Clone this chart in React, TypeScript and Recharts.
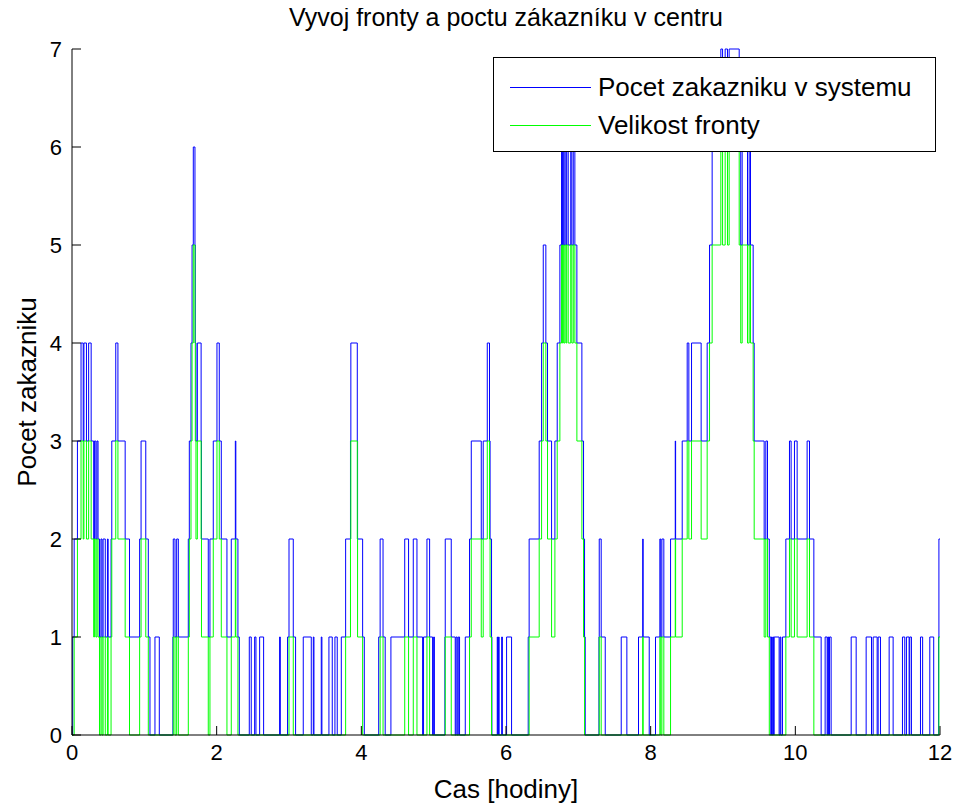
import React from "react";
import { LineChart, Line, XAxis, YAxis, Legend } from "recharts";

// time of each change (hours) and the values right after it
const eventTimes = [
  0, 0.01, 0.03, 0.075, 0.125, 0.155, 0.165, 0.2, 0.23, 0.265,
  0.3, 0.31, 0.33, 0.345, 0.36, 0.38, 0.4, 0.415, 0.43, 0.46,
  0.49, 0.5, 0.54, 0.55, 0.605, 0.635, 0.735, 0.795, 0.935, 0.955,
  1.02, 1.055, 1.078, 1.147, 1.207, 1.395, 1.4, 1.424, 1.447, 1.47,
  1.608, 1.622, 1.645, 1.66, 1.677, 1.7, 1.705, 1.714, 1.733, 1.785,
  1.79, 1.884, 1.907, 1.953,
  2.004, 2.036, 2.064, 2.142, 2.202, 2.258, 2.265, 2.294, 2.313, 2.451,
  2.478, 2.525, 2.543, 2.594, 2.649, 2.87, 2.88, 2.98,
  3.0, 3.059, 3.091, 3.197, 3.308, 3.336, 3.345, 3.446, 3.455, 3.552,
  3.598, 3.635, 3.667, 3.723, 3.783, 3.85, 3.855, 3.944, 3.948,
  4.018, 4.041, 4.24, 4.26, 4.3, 4.33, 4.409, 4.6, 4.653, 4.718,
  4.769, 4.847, 4.86, 4.907, 4.944, 4.985,
  5.0, 5.01, 5.155, 5.16, 5.243, 5.298, 5.31, 5.326, 5.34, 5.358,
  5.437, 5.496, 5.52, 5.658, 5.685, 5.741, 5.772, 5.78, 5.8, 5.805,
  5.879, 5.885, 5.897, 5.905, 5.94, 5.95,
  6.008, 6.077, 6.307, 6.32, 6.459, 6.492, 6.515, 6.551, 6.574, 6.63,
  6.676, 6.708, 6.745, 6.768, 6.78, 6.79, 6.8, 6.815, 6.83, 6.84,
  6.86, 6.895, 6.91, 6.93, 6.952, 6.98,
  7.049, 7.072, 7.086, 7.095, 7.285, 7.289, 7.316, 7.372, 7.593, 7.671,
  7.832, 7.89, 7.896, 7.98,
  8.067, 8.127, 8.14, 8.155, 8.182, 8.275, 8.34, 8.345, 8.436, 8.505,
  8.528, 8.565, 8.698, 8.781, 8.814, 8.85, 8.97, 8.994,
  9.03, 9.062, 9.085, 9.224, 9.245, 9.265, 9.339, 9.362, 9.38, 9.417,
  9.431, 9.569, 9.592, 9.615, 9.64, 9.661, 9.67, 9.68, 9.69, 9.7,
  9.707, 9.776, 9.79, 9.8, 9.822, 9.869, 9.919, 9.942, 9.988,
  10.025, 10.163, 10.196, 10.256, 10.357, 10.412, 10.44, 10.449, 10.46, 10.472,
  10.495, 10.772, 10.841, 10.979,
  11.053, 11.076, 11.131, 11.145, 11.177, 11.297, 11.352, 11.481, 11.513, 11.536,
  11.573, 11.582, 11.605, 11.73, 11.76, 11.859, 11.913, 11.98, 11.985, 12,
];

const systemCounts = [
  0, 1, 2, 3, 4, 3, 4, 3, 4, 3,
  2, 3, 2, 3, 2, 1, 2, 1, 2, 1,
  2, 1, 2, 3, 4, 3, 2, 1, 2, 3,
  2, 1, 0, 1, 0, 1, 2, 1, 2, 1,
  2, 3, 4, 5, 6, 5, 4, 3, 4, 3,
  2, 1, 2, 3,
  4, 3, 2, 1, 2, 3, 2, 1, 0, 1,
  0, 1, 0, 1, 0, 1, 0, 1,
  2, 1, 0, 1, 0, 1, 0, 1, 0, 1,
  0, 1, 0, 1, 2, 3, 4, 3, 2,
  1, 0, 1, 2, 1, 0, 1, 2, 1, 2,
  1, 0, 1, 2, 1, 0,
  1, 0, 1, 2, 1, 0, 1, 0, 1, 0,
  1, 2, 3, 2, 3, 4, 3, 2, 1, 0,
  1, 0, 1, 0, 1, 0,
  1, 0, 1, 2, 3, 4, 5, 4, 3, 2,
  3, 4, 5, 6, 5, 6, 5, 6, 5, 6,
  5, 6, 5, 6, 5, 4,
  3, 2, 1, 0, 1, 2, 1, 0, 1, 0,
  1, 2, 1, 0,
  1, 2, 1, 2, 1, 2, 3, 2, 3, 4,
  3, 4, 3, 4, 5, 6, 7, 6,
  7, 6, 7, 6, 5, 6, 5, 6, 5, 4,
  3, 2, 3, 2, 1, 0, 1, 0, 1, 0,
  1, 0, 1, 0, 1, 2, 3, 2, 3,
  2, 3, 2, 1, 0, 1, 0, 1, 0, 1,
  0, 1, 0, 1,
  0, 1, 0, 1, 0, 1, 0, 1, 0, 1,
  0, 1, 0, 1, 0, 1, 0, 1, 2, 2,
];

const queueSizes = [
  0, 0, 1, 2, 3, 2, 3, 2, 3, 2,
  1, 2, 1, 2, 1, 0, 1, 0, 1, 0,
  1, 0, 1, 2, 3, 2, 1, 0, 1, 2,
  1, 0, 0, 0, 0, 0, 1, 0, 1, 0,
  1, 2, 3, 4, 5, 4, 3, 2, 3, 2,
  1, 0, 1, 2,
  3, 2, 1, 0, 1, 2, 1, 0, 0, 0,
  0, 0, 0, 0, 0, 0, 0, 0,
  1, 0, 0, 0, 0, 0, 0, 0, 0, 0,
  0, 0, 0, 0, 1, 2, 3, 2, 1,
  0, 0, 0, 1, 0, 0, 0, 1, 0, 1,
  0, 0, 0, 1, 0, 0,
  0, 0, 0, 1, 0, 0, 0, 0, 0, 0,
  0, 1, 2, 1, 2, 3, 2, 1, 0, 0,
  0, 0, 0, 0, 0, 0,
  0, 0, 0, 1, 2, 3, 4, 3, 2, 1,
  2, 3, 4, 5, 4, 5, 4, 5, 4, 5,
  4, 5, 4, 5, 4, 3,
  2, 1, 0, 0, 0, 1, 0, 0, 0, 0,
  0, 1, 0, 0,
  0, 1, 0, 1, 0, 1, 2, 1, 2, 3,
  2, 3, 2, 3, 4, 5, 6, 5,
  6, 5, 6, 5, 4, 5, 4, 5, 4, 3,
  2, 1, 2, 1, 0, 0, 0, 0, 0, 0,
  0, 0, 0, 0, 0, 1, 2, 1, 2,
  1, 2, 1, 0, 0, 0, 0, 0, 0, 0,
  0, 0, 0, 0,
  0, 0, 0, 0, 0, 0, 0, 0, 0, 0,
  0, 0, 0, 0, 0, 0, 0, 0, 1, 1,
];

const xTicks = [0, 2, 4, 6, 8, 10, 12];
const yTicks = [0, 1, 2, 3, 4, 5, 6, 7];

const legendItems = [
  { label: "Pocet zakazniku v systemu", color: "#0000ff" },
  { label: "Velikost fronty", color: "#00ff00" },
];

const data = eventTimes.map((t, i) => ({
  t,
  system: systemCounts[i],
  queue: queueSizes[i],
}));

const font = "'Liberation Sans', Arial, sans-serif";
const tickStyle = { fill: "#000", fontSize: 22, fontFamily: font };
const noLabel = () => "";

function MatlabLegend() {
  return (
    <div
      style={{
        boxSizing: "border-box",
        width: 443,
        height: 95,
        border: "1px solid #000",
        background: "#fff",
        position: "relative",
        fontFamily: font,
        fontSize: 26,
        color: "#000",
      }}
    >
      {legendItems.map((item, i) => (
        <div key={item.label} style={{ position: "absolute", left: 0, top: 14 + i * 38, height: 30, width: "100%" }}>
          <div style={{ position: "absolute", left: 16, top: 15, width: 81, height: 0, borderTop: `1px solid ${item.color}` }} />
          <div style={{ position: "absolute", left: 104, top: 0, lineHeight: "30px", whiteSpace: "nowrap" }}>{item.label}</div>
        </div>
      ))}
    </div>
  );
}

export default function App() {
  return (
    <div style={{ position: "relative", width: 953, height: 802, background: "#fff" }}>
      <div
        style={{
          position: "absolute",
          left: 64,
          width: 868,
          top: -6,
          textAlign: "center",
          fontFamily: font,
          fontSize: 25,
          lineHeight: "30px",
        }}
      >
        Vyvoj fronty a poctu zákazníku v centru
      </div>
      <LineChart width={953} height={802} data={data} margin={{ top: 41, right: 21, bottom: 0, left: 0 }}>
        <XAxis
          dataKey="t"
          type="number"
          domain={[0, 12]}
          ticks={xTicks}
          height={75}
          stroke="#000"
          tickSize={-9}
          tickMargin={18}
          tick={tickStyle}
        />
        <XAxis
          xAxisId="top"
          orientation="top"
          type="number"
          domain={[0, 12]}
          ticks={xTicks}
          height={0}
          stroke="#000"
          tickSize={-9}
          tickFormatter={noLabel}
        />
        <YAxis
          type="number"
          domain={[0, 7]}
          ticks={yTicks}
          width={64}
          stroke="#000"
          tickSize={-9}
          tickMargin={19}
          tick={tickStyle}
        />
        <YAxis
          yAxisId="right"
          orientation="right"
          type="number"
          domain={[0, 7]}
          ticks={yTicks}
          width={0}
          stroke="#000"
          tickSize={-9}
          tickFormatter={noLabel}
        />
        <Legend
          layout="horizontal"
          verticalAlign="middle"
          align="center"
          content={() => <MatlabLegend />}
          wrapperStyle={{ left: 485, top: 49, width: 443, height: 95 }}
        />
        <Line
          type="stepAfter"
          dataKey="system"
          name={legendItems[0].label}
          stroke="#0000ff"
          strokeWidth={1}
          dot={false}
          isAnimationActive={false}
        />
        <Line
          type="stepAfter"
          dataKey="queue"
          name={legendItems[1].label}
          stroke="#00ff00"
          strokeWidth={1}
          dot={false}
          isAnimationActive={false}
        />
      </LineChart>
      <div
        style={{
          position: "absolute",
          left: 64,
          width: 868,
          top: 766,
          textAlign: "center",
          fontFamily: font,
          fontSize: 26,
          lineHeight: "30px",
        }}
      >
        Cas [hodiny]
      </div>
      <div
        style={{
          position: "absolute",
          left: 19,
          top: 384,
          width: 0,
          height: 0,
          fontFamily: font,
          fontSize: 26,
        }}
      >
        <div
          style={{
            position: "absolute",
            transform: "translate(-50%, -50%) rotate(-90deg)",
            whiteSpace: "nowrap",
            lineHeight: "30px",
          }}
        >
          Pocet zakazniku
        </div>
      </div>
    </div>
  );
}
